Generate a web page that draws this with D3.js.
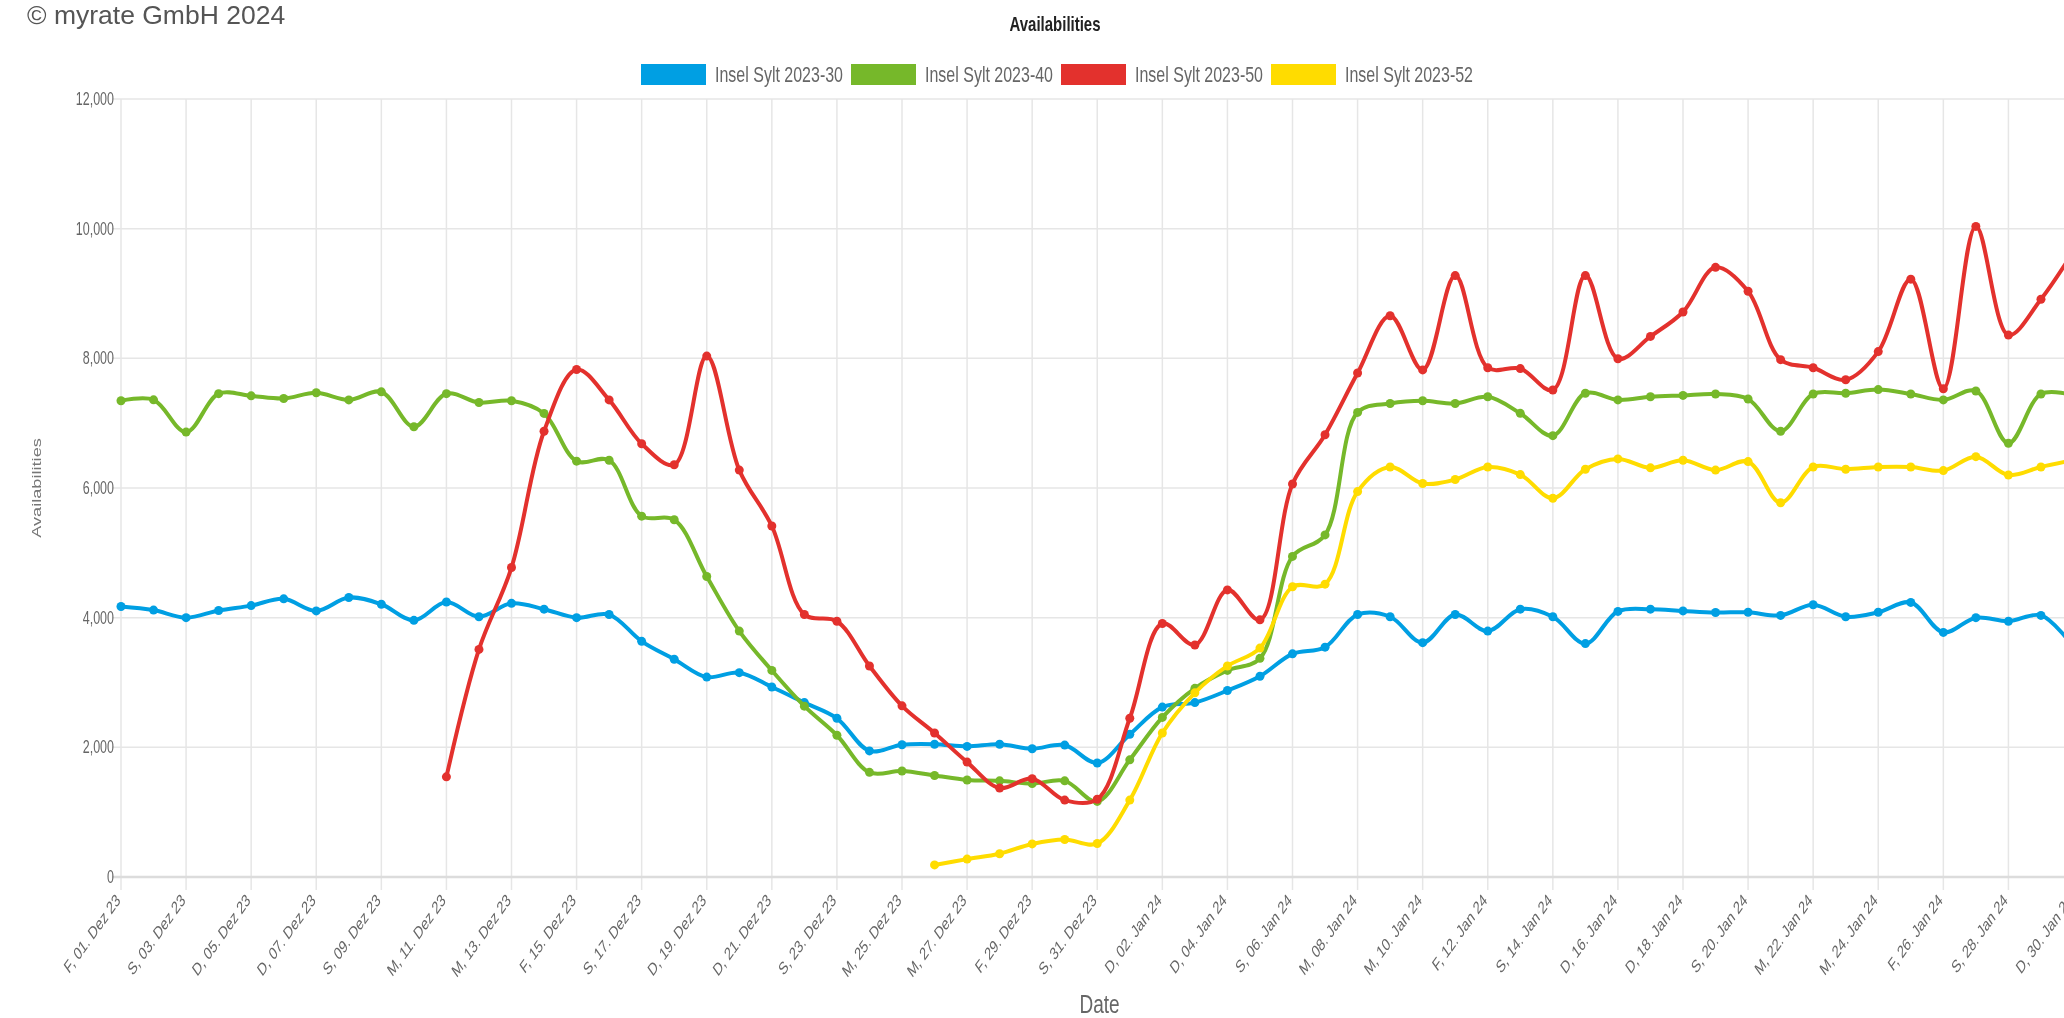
<!DOCTYPE html>
<html>
<head>
<meta charset="utf-8">
<script src="https://cdn.jsdelivr.net/npm/d3@7"></script>
<style>
    html, body { margin: 0; padding: 0; background: #fff; overflow: hidden; }
    svg { display: block; font-family: "Liberation Sans", Arial, sans-serif; filter: blur(0.6px); }
</style>
</head>
<body>
<svg id="chart" width="2064" height="1018"></svg>
<script>
const days = [
    'F, 01. Dez 23', 'S, 02. Dez 23', 'S, 03. Dez 23', 'M, 04. Dez 23', 'D, 05. Dez 23', 'M, 06. Dez 23', 'D, 07. Dez 23',
    'F, 08. Dez 23', 'S, 09. Dez 23', 'S, 10. Dez 23', 'M, 11. Dez 23', 'D, 12. Dez 23', 'M, 13. Dez 23', 'D, 14. Dez 23',
    'F, 15. Dez 23', 'S, 16. Dez 23', 'S, 17. Dez 23', 'M, 18. Dez 23', 'D, 19. Dez 23', 'M, 20. Dez 23', 'D, 21. Dez 23',
    'F, 22. Dez 23', 'S, 23. Dez 23', 'S, 24. Dez 23', 'M, 25. Dez 23', 'D, 26. Dez 23', 'M, 27. Dez 23', 'D, 28. Dez 23',
    'F, 29. Dez 23', 'S, 30. Dez 23', 'S, 31. Dez 23', 'M, 01. Jan 24', 'D, 02. Jan 24', 'M, 03. Jan 24', 'D, 04. Jan 24',
    'F, 05. Jan 24', 'S, 06. Jan 24', 'S, 07. Jan 24', 'M, 08. Jan 24', 'D, 09. Jan 24', 'M, 10. Jan 24', 'D, 11. Jan 24',
    'F, 12. Jan 24', 'S, 13. Jan 24', 'S, 14. Jan 24', 'M, 15. Jan 24', 'D, 16. Jan 24', 'M, 17. Jan 24', 'D, 18. Jan 24',
    'F, 19. Jan 24', 'S, 20. Jan 24', 'S, 21. Jan 24', 'M, 22. Jan 24', 'D, 23. Jan 24', 'M, 24. Jan 24', 'D, 25. Jan 24',
    'F, 26. Jan 24', 'S, 27. Jan 24', 'S, 28. Jan 24', 'M, 29. Jan 24', 'D, 30. Jan 24'
]

const sylt30 = [
    4173, 4117, 4000, 4111, 4186, 4290, 4104, 4311, 4207, 3959, 4242, 4014, 4221, 4131, 4000, 4048,
    3635, 3359, 3083, 3152, 2931, 2690, 2448, 1945, 2040, 2048, 2014, 2048, 1979, 2035, 1759, 2200,
    2621, 2690, 2876, 3097, 3442, 3545, 4048, 4014, 3614, 4048, 3793, 4131, 4014, 3600, 4097, 4131,
    4104, 4080, 4083, 4035, 4200, 4014, 4083, 4235, 3773, 4000, 3945, 4035, 3550
]
const sylt40 = [
    7345, 7360, 6862, 7455, 7421, 7380, 7469, 7359, 7483, 6945, 7455, 7318, 7345, 7150, 6414, 6428,
    5566, 5511, 4635, 3793, 3186, 2635, 2186, 1614, 1635, 1566, 1497, 1483, 1441, 1483, 1166, 1807,
    2462, 2910, 3186, 3373, 4945, 5276, 7166, 7304, 7345, 7304, 7407, 7152, 6807, 7462, 7359, 7407,
    7428, 7449, 7373, 6876, 7449, 7462, 7518, 7449, 7359, 7497, 6690, 7449, 7430
]
const sylt50 = [
    null, null, null, null, null, null, null, null, null, null, 1545, 3510, 4773, 6876, 7828, 7359,
    6683, 6359, 8035, 6276, 5414, 4048, 3945, 3255, 2640, 2221, 1772, 1372, 1517, 1186, 1200, 2448,
    3910, 3579, 4428, 3966, 6062, 6821, 7773, 8656, 7821, 9276, 7855, 7842, 7511, 9276, 7993, 8338,
    8715, 9404, 9035, 7980, 7855, 7669, 8104, 9221, 7531, 10035, 8359, 8911, 9650
]
const sylt52 = [
    null, null, null, null, null, null, null, null, null, null, null, null, null, null, null, null,
    null, null, null, null, null, null, null, null, null, 186, 276, 359, 510, 579, 517, 1186,
    2221, 2841, 3255, 3531, 4476, 4517, 5945, 6324, 6069, 6131, 6324, 6207, 5842, 6290, 6449, 6311,
    6428, 6276, 6407, 5773, 6324, 6290, 6324, 6324, 6269, 6483, 6200, 6324, 6430
]

const seriesNames = ['Insel Sylt 2023-30', 'Insel Sylt 2023-40', 'Insel Sylt 2023-50', 'Insel Sylt 2023-52']
const seriesColors = ['#009fe3', '#76b82a', '#e3312d', '#ffdc00']
const yTicks = [0, 2000, 4000, 6000, 8000, 10000, 12000]

const series = [sylt30, sylt40, sylt50, sylt52].map((values, k) => ({
    name: seriesNames[k],
    color: seriesColors[k],
    points: values.map((v, i) => ({ i: i, v: v }))
}))

const svg = d3.select('#chart')
const width = 2064
const plotLeft = 121
const plotTop = 99
const plotBottom = 877
// the chart canvas is stretched vertically, so its text looks tall and narrow
const stretch = 1.4

const xScale = d3.scaleLinear()
    .domain([0, days.length - 1])
    .range([plotLeft, 2073.5])

const yScale = d3.scaleLinear()
    .domain([0, 12000])
    .range([plotBottom, plotTop])

const place = (x, y, extra) => `translate(${x}, ${y}) scale(1, ${stretch})${extra || ''}`

svg.append('text')
    .attr('x', 27)
    .attr('y', 24)
    .attr('font-size', 26.5)
    .attr('fill', '#555')
    .text('\u00a9 myrate GmbH 2024')

svg.append('text')
    .attr('transform', place(1055, 31))
    .attr('text-anchor', 'middle')
    .attr('font-size', 15)
    .attr('font-weight', 'bold')
    .attr('fill', '#222')
    .text('Availabilities')

// legend
const legend = svg.selectAll('g.legend')
    .data(series)
    .enter().append('g')
    .attr('class', 'legend')
    .attr('transform', (d, k) => `translate(${641 + k * 210}, 64)`)
legend.append('rect')
    .attr('width', 65)
    .attr('height', 21)
    .attr('fill', d => d.color)
legend.append('text')
    .attr('transform', place(74, 18))
    .attr('font-size', 16)
    .attr('fill', '#666')
    .text(d => d.name)

// grid
const xTicks = d3.range(0, days.length, 2)

svg.append('g')
    .selectAll('line')
    .data(xTicks)
    .enter().append('line')
    .attr('x1', d => xScale(d))
    .attr('x2', d => xScale(d))
    .attr('y1', plotTop)
    .attr('y2', plotBottom + 13)
    .attr('stroke', '#e6e6e6')
    .attr('stroke-width', 1.5)

svg.append('g')
    .selectAll('line')
    .data(yTicks)
    .enter().append('line')
    .attr('x1', plotLeft - 9)
    .attr('x2', width)
    .attr('y1', d => yScale(d))
    .attr('y2', d => yScale(d))
    .attr('stroke', d => d === 0 ? '#dcdcdc' : '#e6e6e6')
    .attr('stroke-width', d => d === 0 ? 2.5 : 1.5)

svg.append('g')
    .selectAll('text')
    .data(yTicks)
    .enter().append('text')
    .attr('transform', d => place(plotLeft - 7, yScale(d)))
    .attr('dy', '0.35em')
    .attr('text-anchor', 'end')
    .attr('font-size', 12.5)
    .attr('fill', '#666')
    .text(d => d3.format(',')(d))

svg.append('g')
    .selectAll('text')
    .data(xTicks)
    .enter().append('text')
    .attr('transform', d => place(xScale(d) - 3, plotBottom + 20, ' rotate(-45)'))
    .attr('dy', '0.35em')
    .attr('text-anchor', 'end')
    .attr('font-size', 12.5)
    .attr('fill', '#666')
    .text(d => days[d])

svg.append('text')
    .attr('transform', place(41, (plotTop + plotBottom) / 2, ' rotate(-90)'))
    .attr('text-anchor', 'middle')
    .attr('font-size', 13)
    .attr('fill', '#777')
    .text('Availabilities')

svg.append('text')
    .attr('transform', place(1099.5, 1013))
    .attr('text-anchor', 'middle')
    .attr('font-size', 19)
    .attr('fill', '#666')
    .text('Date')

// lines
const line = d3.line()
    .defined(d => d.v !== null)
    .x(d => xScale(d.i))
    .y(d => yScale(d.v))
    .curve(d3.curveCatmullRom.alpha(0.5))

const groups = svg.selectAll('g.series')
    .data(series)
    .enter().append('g')
    .attr('class', 'series')

groups.append('path')
    .attr('d', d => line(d.points))
    .attr('fill', 'none')
    .attr('stroke', d => d.color)
    .attr('stroke-width', 4)

groups.each(function (s) {
    d3.select(this).selectAll('circle')
        .data(s.points.filter(p => p.v !== null))
        .enter().append('circle')
        .attr('cx', p => xScale(p.i))
        .attr('cy', p => yScale(p.v))
        .attr('r', 4.5)
        .attr('fill', s.color)
})
</script>
</body>
</html>
